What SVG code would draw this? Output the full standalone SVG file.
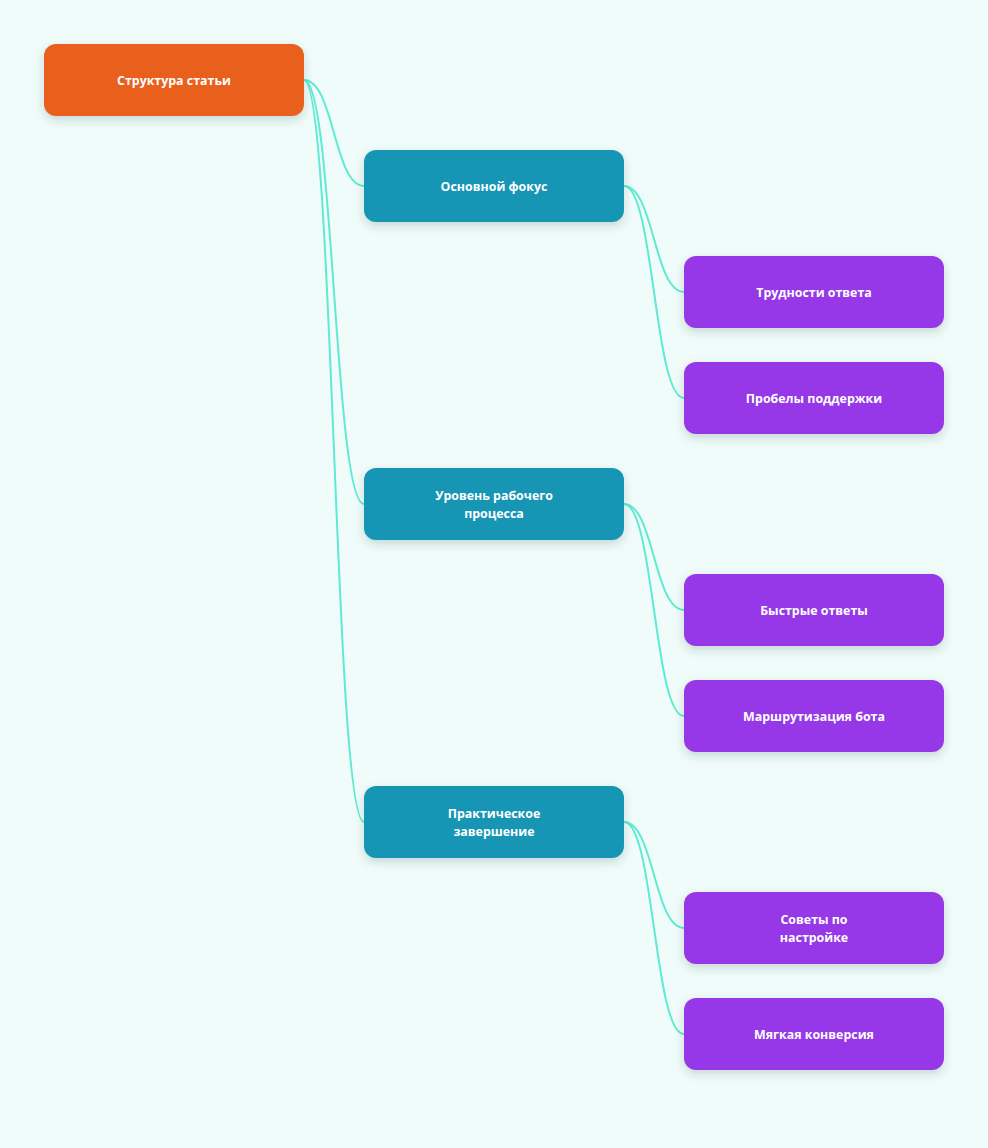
<svg xmlns="http://www.w3.org/2000/svg" width="988" height="1148" viewBox="0 0 988 1148">
<defs>
<filter id="sh" x="-20%" y="-30%" width="140%" height="170%">
<feDropShadow dx="0" dy="4" stdDeviation="5" flood-color="#0f3d3a" flood-opacity="0.18"/>
</filter>
<style>
.n rect{filter:url(#sh)}
.r rect{fill:#E8601A}
.a rect{fill:#1795B5}
.b rect{fill:#9639E8}
.n text{fill:#ffffff;font-family:"Open Sans","Noto Sans","Liberation Sans",sans-serif;font-weight:700;font-size:12.4px;text-anchor:middle}
.c path{fill:none;stroke:#5EEAD4;stroke-width:2}
</style>
</defs>
<rect width="988" height="1148" fill="#F0FCF9"/>
<g class="c" id="connectors">
<path d="M304 80 C334 80 334 186 364 186"/>
<path d="M304 80 C334 80 334 504 364 504"/>
<path d="M304 80 C334 80 334 822 364 822"/>
<path d="M624 186 C654 186 654 292 684 292"/>
<path d="M624 186 C654 186 654 398 684 398"/>
<path d="M624 504 C654 504 654 610 684 610"/>
<path d="M624 504 C654 504 654 716 684 716"/>
<path d="M624 822 C654 822 654 928 684 928"/>
<path d="M624 822 C654 822 654 1034 684 1034"/>
</g>
<g class="n r" id="root"><rect x="44" y="44" width="260" height="72" rx="12"/><text x="174" y="85">Структура статьи</text></g>
<g class="n a" id="focus"><rect x="364" y="150" width="260" height="72" rx="12"/><text x="494" y="191">Основной фокус</text></g>
<g class="n a" id="workflow"><rect x="364" y="468" width="260" height="72" rx="12"/><text x="494" y="500">Уровень рабочего</text><text x="494" y="518">процесса</text></g>
<g class="n a" id="finish"><rect x="364" y="786" width="260" height="72" rx="12"/><text x="494" y="818">Практическое</text><text x="494" y="836">завершение</text></g>
<g class="n b" id="difficulty"><rect x="684" y="256" width="260" height="72" rx="12"/><text x="814" y="297">Трудности ответа</text></g>
<g class="n b" id="gaps"><rect x="684" y="362" width="260" height="72" rx="12"/><text x="814" y="403">Пробелы поддержки</text></g>
<g class="n b" id="quick"><rect x="684" y="574" width="260" height="72" rx="12"/><text x="814" y="615">Быстрые ответы</text></g>
<g class="n b" id="routing"><rect x="684" y="680" width="260" height="72" rx="12"/><text x="814" y="721">Маршрутизация бота</text></g>
<g class="n b" id="tips"><rect x="684" y="892" width="260" height="72" rx="12"/><text x="814" y="924">Советы по</text><text x="814" y="942">настройке</text></g>
<g class="n b" id="soft"><rect x="684" y="998" width="260" height="72" rx="12"/><text x="814" y="1039">Мягкая конверсия</text></g>
</svg>
